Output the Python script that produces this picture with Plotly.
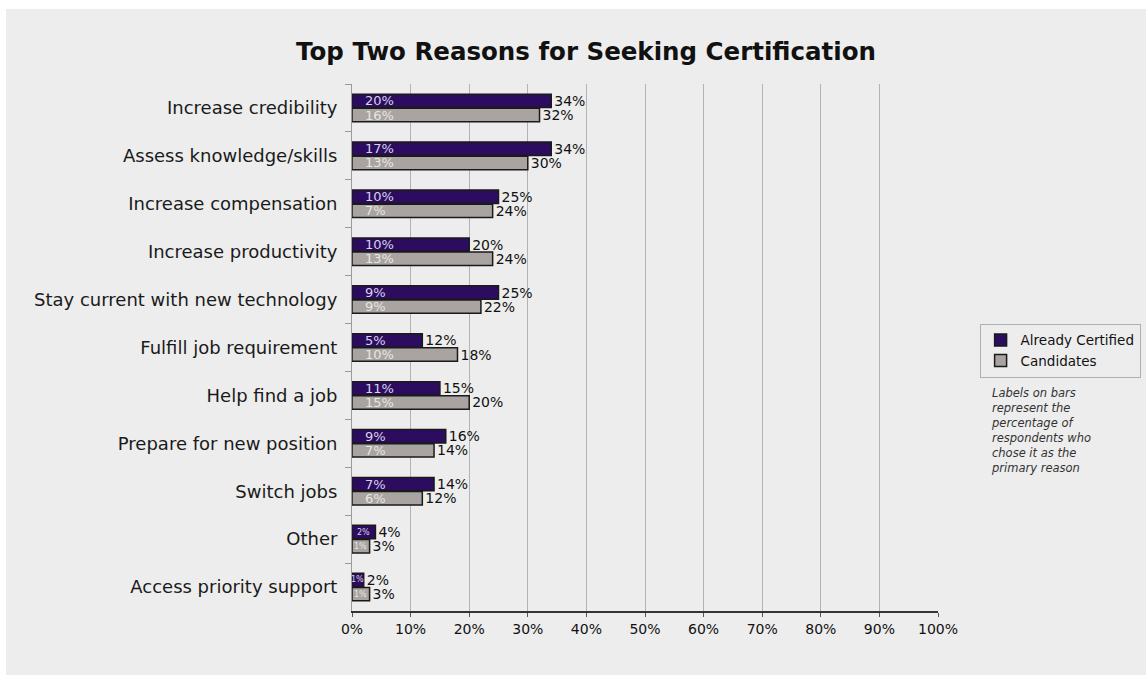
import plotly.graph_objects as go

# Reasons, listed top to bottom
reasons = [
    "Increase credibility",
    "Assess knowledge/skills",
    "Increase compensation",
    "Increase productivity",
    "Stay current with new technology",
    "Fulfill job requirement",
    "Help find a job",
    "Prepare for new position",
    "Switch jobs",
    "Other",
    "Access priority support",
]

# Share choosing the reason among their top two (%)
certified_top2 = [34, 34, 25, 20, 25, 12, 15, 16, 14, 4, 2]
candidates_top2 = [32, 30, 24, 24, 22, 18, 20, 14, 12, 3, 3]

# Share choosing the reason as the primary one (%)
certified_primary = [20, 17, 10, 10, 9, 5, 11, 9, 7, 2, 1]
candidates_primary = [16, 13, 7, 13, 9, 10, 15, 7, 6, 1, 1]

x_ticks = list(range(0, 101, 10))
x_tick_labels = [f"{v}%" for v in x_ticks]

PURPLE = "#2b0c5e"
GREY = "#a9a4a1"
PANEL = "#ededed"
FONT = "DejaVu Sans"

fig = go.Figure()

fig.add_trace(go.Bar(
    name="Already Certified",
    y=reasons, x=certified_top2, orientation="h",
    marker=dict(color=PURPLE, line=dict(color="#1a1a1a", width=1.5)),
    text=[f"{v}%" for v in certified_top2],
    textposition="outside", constraintext="none", cliponaxis=False,
    textfont=dict(family=FONT, size=14, color="#111111"),
    hoverinfo="skip",
))
fig.add_trace(go.Bar(
    name="Candidates",
    y=reasons, x=candidates_top2, orientation="h",
    marker=dict(color=GREY, line=dict(color="#1a1a1a", width=1.5)),
    text=[f"{v}%" for v in candidates_top2],
    textposition="outside", constraintext="none", cliponaxis=False,
    textfont=dict(family=FONT, size=14, color="#111111"),
    hoverinfo="skip",
))

# Primary-reason labels drawn inside each bar
BAR_GAP = 0.41
half = (1 - BAR_GAP) / 4  # centre offset of each bar within its category
annotations = []
for i in range(len(reasons)):
    for primary, total, off, col in (
        (certified_primary[i], certified_top2[i], -half, "#d9d2ea"),
        (candidates_primary[i], candidates_top2[i], half, "#e8e5e2"),
    ):
        if total >= 5:
            annotations.append(dict(
                x=0, y=i + off, xref="x", yref="y", text=f"{primary}%",
                showarrow=False, xanchor="left", xshift=11,
                font=dict(family=FONT, size=13, color=col),
            ))
        else:
            annotations.append(dict(
                x=total / 2, y=i + off, xref="x", yref="y", text=f"{primary}%",
                showarrow=False, xanchor="center",
                font=dict(family=FONT, size=8, color=col),
            ))

annotations.append(dict(
    x=1.087, y=0.43, xref="paper", yref="paper",
    xanchor="left", yanchor="top", align="left", showarrow=False,
    text=("Labels on bars<br>represent the<br>percentage of<br>"
          "respondents who<br>chose it as the<br>primary reason"),
    font=dict(family=FONT, size=11.5, color="#333333", style="italic"),
))

fig.update_layout(
    width=1146, height=675,
    margin=dict(l=352, r=208, t=84, b=64, autoexpand=False),
    paper_bgcolor=PANEL, plot_bgcolor=PANEL,
    barmode="group", bargap=BAR_GAP, bargroupgap=0.05,
    title=dict(
        text="<b>Top Two Reasons for Seeking Certification</b>",
        x=586 / 1146, xref="container", xanchor="center",
        y=1 - 51 / 675, yref="container", yanchor="middle",
        font=dict(family=FONT, size=24.5, color="#111111"),
    ),
    xaxis=dict(
        range=[0, 100], tickvals=x_ticks, ticktext=x_tick_labels,
        showgrid=True, gridcolor="#b3b3b3", gridwidth=1,
        zeroline=False, showline=True, linecolor="#333333", linewidth=1.5,
        ticks="outside", ticklen=4, tickcolor="#555555",
        tickfont=dict(family=FONT, size=14, color="#111111"),
        fixedrange=True,
    ),
    yaxis=dict(
        type="category", categoryorder="array", categoryarray=reasons,
        autorange="reversed",
        showgrid=False, showline=True, linecolor="#9a9a9a", linewidth=1,
        ticks="outside", tickson="boundaries", ticklen=6, tickcolor="#9a9a9a",
        tickfont=dict(family=FONT, size=18, color="#1a1a1a"),
        ticklabelstandoff=10,
        fixedrange=True,
    ),
    legend=dict(
        x=1.071, y=0.545, xanchor="left", yanchor="top",
        bgcolor=PANEL, bordercolor="#b0b0b0", borderwidth=1,
        font=dict(family=FONT, size=13.5, color="#111111"),
        traceorder="normal", itemclick=False, itemdoubleclick=False,
        tracegroupgap=2, itemwidth=30,
    ),
    annotations=annotations,
    shapes=[
        # white page edge around the grey panel
        dict(type="rect", xref="paper", yref="paper",
             x0=-0.7, x1=-0.5904, y0=-0.3, y1=1.4,
             fillcolor="white", line=dict(width=0), layer="below"),
        dict(type="rect", xref="paper", yref="paper",
             x0=-0.7, x1=1.5, y0=1.1423, y1=1.4,
             fillcolor="white", line=dict(width=0), layer="below"),
    ],
    showlegend=True,
)

fig.write_html("out.html")
